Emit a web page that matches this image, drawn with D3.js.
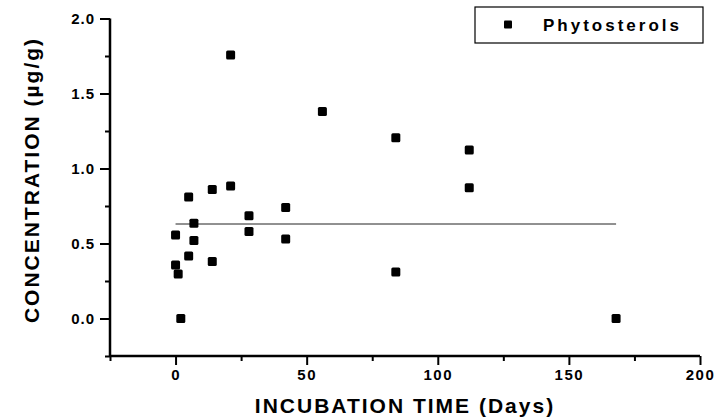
<!DOCTYPE html>
<html>
<head>
<meta charset="utf-8">
<script src="https://cdn.jsdelivr.net/npm/d3@7"></script>
<style>
  body { margin: 0; background: #fff; }
  text { font-family: "Liberation Sans", Arial, sans-serif; font-weight: bold; fill: #000; }
</style>
</head>
<body>
<svg id="chart" width="725" height="419"></svg>
<script>
// dati
const days = [0, 0, 1, 2, 5, 5, 7, 7, 14, 14, 21, 21, 28, 28, 42, 42, 56, 84, 84, 112, 112, 168];
const concentration = [0.557, 0.357, 0.297, 0.0, 0.81, 0.417, 0.635, 0.52, 0.86, 0.38, 0.883, 1.757, 0.685, 0.58, 0.74, 0.53, 1.38, 1.205, 0.31, 1.123, 0.872, 0.0];

// linea media
const fitDays = [0, 168];
const fitValues = [0.63, 0.63];

const xTicks = [0, 50, 100, 150, 200];
const yTicks = [0.0, 0.5, 1.0, 1.5, 2.0];
const seriesName = "Phytosterols";

const svg = d3.select("#chart");

// scale
const x = d3.scaleLinear().domain([-25, 200]).range([110, 700]);
const y = d3.scaleLinear().domain([-0.25, 2.0]).range([356, 18.5]);

// assi
const xAxis = svg.append("g")
  .attr("transform", `translate(0,${y(-0.25)})`)
  .call(d3.axisBottom(x).tickValues(xTicks).tickFormat(d3.format("d")).tickSize(9).tickPadding(4));

const xMinor = svg.append("g")
  .attr("transform", `translate(0,${y(-0.25)})`)
  .call(d3.axisBottom(x).tickValues([-25, 25, 75, 125, 175]).tickFormat("").tickSize(5));

const yAxis = svg.append("g")
  .attr("transform", `translate(${x(-25)},0)`)
  .call(d3.axisLeft(y).tickValues(yTicks).tickFormat(d3.format(".1f")).tickSize(10).tickPadding(5));

const yMinor = svg.append("g")
  .attr("transform", `translate(${x(-25)},0)`)
  .call(d3.axisLeft(y).tickValues([-0.25, 0.25, 0.75, 1.25, 1.75]).tickFormat("").tickSize(5));

svg.selectAll(".domain").attr("stroke", "#000").attr("stroke-width", 2.5);
svg.selectAll(".tick line").attr("stroke", "#000").attr("stroke-width", 2);
xMinor.select(".domain").remove();
yMinor.select(".domain").remove();
xAxis.selectAll(".domain").attr("d", `M${x(-25)},0H${x(200)}`);
yAxis.selectAll(".domain").attr("d", `M0,${y(-0.25)}V${y(2.0)}`);

xAxis.selectAll(".tick text")
  .attr("font-size", 15).attr("letter-spacing", 1.5)
  .attr("font-family", "Liberation Sans, Arial, sans-serif").attr("font-weight", "bold").attr("fill", "#000");
yAxis.selectAll(".tick text")
  .attr("font-size", 15).attr("letter-spacing", 1)
  .attr("font-family", "Liberation Sans, Arial, sans-serif").attr("font-weight", "bold").attr("fill", "#000");

// etichette assi
svg.append("text")
  .attr("x", 405)
  .attr("y", 413)
  .attr("text-anchor", "middle")
  .attr("font-size", 21)
  .attr("letter-spacing", 2)
  .text("INCUBATION TIME (Days)");

svg.append("text")
  .attr("transform", "translate(39,180) rotate(-90)")
  .attr("text-anchor", "middle")
  .attr("font-size", 21)
  .attr("letter-spacing", 2)
  .text("CONCENTRATION (µg/g)");

// linea
const line = d3.line().x(d => x(d[0])).y(d => y(d[1]));
svg.append("path")
  .datum(fitDays.map((d, i) => [d, fitValues[i]]))
  .attr("d", line)
  .attr("fill", "none")
  .attr("stroke", "#222")
  .attr("stroke-width", 1);

// punti
const sz = 9;
svg.append("g")
  .selectAll("rect")
  .data(days.map((d, i) => ({ day: d, value: concentration[i] })))
  .join("rect")
  .attr("x", d => x(d.day) - sz / 2)
  .attr("y", d => y(d.value) - sz / 2)
  .attr("width", sz)
  .attr("height", sz)
  .attr("rx", 1.5)
  .attr("fill", "#000");

// legenda
const legend = svg.append("g").attr("transform", "translate(475,7)");
legend.append("rect")
  .attr("width", 228)
  .attr("height", 36)
  .attr("fill", "#fff")
  .attr("stroke", "#000")
  .attr("stroke-width", 1.2);
legend.append("rect")
  .attr("x", 33 - 4)
  .attr("y", 17.5 - 4)
  .attr("width", 8)
  .attr("height", 8)
  .attr("rx", 1)
  .attr("fill", "#000");
legend.append("text")
  .attr("x", 68)
  .attr("y", 24)
  .attr("font-size", 17)
  .attr("letter-spacing", 3)
  .text(seriesName);
</script>
</body>
</html>
